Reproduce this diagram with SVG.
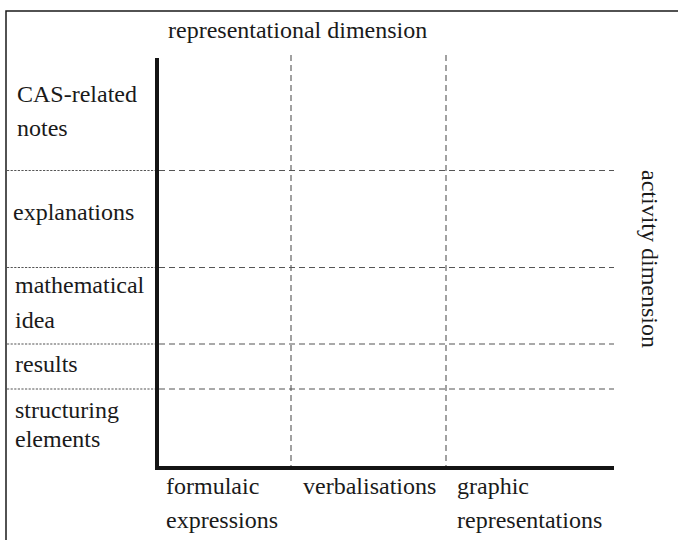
<svg xmlns="http://www.w3.org/2000/svg" width="678" height="540" viewBox="0 0 678 540">
  <style>
    .frame { fill: none; stroke: #1a1a1a; stroke-width: 1.5; }
    .axis { fill: none; stroke: #141414; stroke-width: 4; }
    .grid { fill: none; stroke: #555; stroke-width: 1.1; stroke-dasharray: 6 4; }
    .fine { fill: none; stroke: #555; stroke-width: 1.1; stroke-dasharray: 2.2 1.4; }
  </style>
  <rect width="678" height="540" fill="#fff"/>

  <!-- outer frame (open to the right and bottom) -->
  <path class="frame" d="M6,540 V11 H678"/>

  <g id="connectors">
    <!-- row separators: fine dots in the label column, dashes in the grid -->
    <path class="fine" d="M7,170.5 H155 M7,267.5 H155 M7,344 H155 M7,389 H155"/>
    <path class="grid" d="M159,170.5 H614 M159,267.5 H614 M159,344 H614 M159,389 H614"/>
    <!-- column separators -->
    <path class="grid" d="M291,55 V466 M446,55 V466"/>
    <!-- axes -->
    <path class="axis" d="M157,58 V468 H614"/>
  </g>

  <g font-family="'Liberation Serif', 'DejaVu Serif', serif" font-size="24" fill="#1a1a1a">
    <g id="axis-representational"><text x="168" y="38">representational dimension</text></g>
    <g id="axis-activity"><text transform="translate(642,170) rotate(90)">activity dimension</text></g>

    <g id="row-cas"><text x="17" y="102">CAS-related</text><text x="17" y="136">notes</text></g>
    <g id="row-explanations"><text x="13" y="220">explanations</text></g>
    <g id="row-idea"><text x="15" y="293">mathematical</text><text x="15" y="328">idea</text></g>
    <g id="row-results"><text x="15" y="372">results</text></g>
    <g id="row-structuring"><text x="15" y="418">structuring</text><text x="15" y="447">elements</text></g>

    <g id="col-formulaic"><text x="166" y="494">formulaic</text><text x="166" y="528">expressions</text></g>
    <g id="col-verbal"><text x="303" y="494">verbalisations</text></g>
    <g id="col-graphic"><text x="457" y="494">graphic</text><text x="457" y="528">representations</text></g>
  </g>
</svg>
